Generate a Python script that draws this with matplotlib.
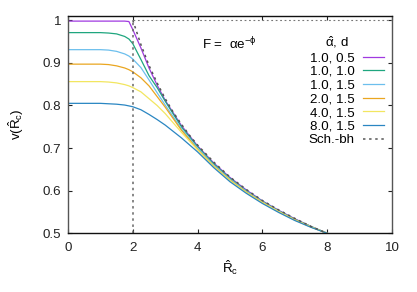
import matplotlib
matplotlib.use("Agg")
import matplotlib.pyplot as plt

plt.rcParams['font.family'] = ['Liberation Sans', 'DejaVu Sans']
plt.rcParams['mathtext.fontset'] = 'custom'
plt.rcParams['mathtext.rm'] = 'Liberation Sans'
plt.rcParams['mathtext.it'] = 'Liberation Sans:italic'

# ---- data ----
R = [0, 0.5, 1.0, 1.25, 1.5, 1.75, 1.88, 2.0, 2.25, 2.5, 2.75, 3.0, 3.5,
     4.0, 4.5, 5.0, 5.5, 6.0, 6.5, 7.0, 7.5, 8.0]

v_a10_d05 = [0.998, 0.998, 0.998, 0.998, 0.998, 0.998, 0.997, 0.978, 0.935, 0.888,
             0.848, 0.812, 0.753, 0.705, 0.665, 0.631, 0.602, 0.576, 0.554,
             0.534, 0.516, 0.5]
v_a10_d10 = [0.971, 0.971, 0.971, 0.970, 0.968, 0.962, 0.956, 0.945, 0.908, 0.870,
             0.842, 0.810, 0.750, 0.703, 0.663, 0.629, 0.600, 0.575, 0.553,
             0.533, 0.516, 0.5]
v_a10_d15 = [0.931, 0.931, 0.931, 0.930, 0.927, 0.921, 0.916, 0.909, 0.889, 0.860,
             0.830, 0.801, 0.745, 0.700, 0.660, 0.627, 0.599, 0.574, 0.552,
             0.532, 0.515, 0.5]
v_a20_d15 = [0.897, 0.897, 0.897, 0.896, 0.893, 0.888, 0.884, 0.879, 0.865, 0.846,
             0.821, 0.796, 0.742, 0.697, 0.658, 0.625, 0.597, 0.573, 0.551,
             0.532, 0.515, 0.5]
v_a40_d15 = [0.856, 0.856, 0.856, 0.855, 0.853, 0.849, 0.846, 0.842, 0.832, 0.816,
             0.800, 0.781, 0.737, 0.696, 0.657, 0.624, 0.596, 0.572, 0.551,
             0.531, 0.515, 0.5]
v_a80_d15 = [0.805, 0.805, 0.805, 0.804, 0.803, 0.801, 0.799, 0.797, 0.790, 0.779,
             0.767, 0.754, 0.724, 0.691, 0.654, 0.621, 0.594, 0.570, 0.549,
             0.530, 0.514, 0.5]

R_sch = [2.0, 2.25, 2.5, 2.75, 3.0, 3.25, 3.5, 3.75, 4.0, 4.5, 5.0, 5.5, 6.0,
         6.5, 7.0, 7.5, 8.0]
v_sch = [1.0, 0.943, 0.894, 0.853, 0.816, 0.784, 0.756, 0.730, 0.707, 0.667,
         0.632, 0.603, 0.577, 0.555, 0.535, 0.516, 0.5]

series = [
    ("1.0, 0.5", v_a10_d05, "#a03ae0"),
    ("1.0, 1.0", v_a10_d10, "#1fa67f"),
    ("1.0, 1.5", v_a10_d15, "#6cbfed"),
    ("2.0, 1.5", v_a20_d15, "#eaa620"),
    ("4.0, 1.5", v_a40_d15, "#f2e660"),
    ("8.0, 1.5", v_a80_d15, "#2a86c2"),
]

xticks = [0, 2, 4, 6, 8, 10]
yticks = [0.5, 0.6, 0.7, 0.8, 0.9, 1.0]
ytick_labels = ["0.5", "0.6", "0.7", "0.8", "0.9", "1"]

FS = 9.6
W, H = 417, 292
AX_L, AX_R, AX_T, AX_B = 68, 392, 16, 233.3

fig = plt.figure(figsize=(W/100, H/100), dpi=100)
ax = fig.add_axes([AX_L/W, 1-AX_B/H, (AX_R-AX_L)/W, (AX_B-AX_T)/H])

for lab, v, c in series:
    ax.plot(R, v, color=c, lw=0.9, label=lab)

dots = (0, (1.6, 2.4))
sch_col = "#555555"
ax.plot(R_sch, v_sch, color=sch_col, lw=1.1, linestyle=dots, label="Sch.-bh")
ax.plot([2, 10], [1.0, 1.0], color="#777777", lw=0.8, linestyle=dots)
ax.plot([2, 2], [0.5, 1.0], color="#666666", lw=1.1, linestyle=dots)

ax.set_xlim(0, 10)
ax.set_ylim(0.5, 1.01)
ax.set_xticks(xticks)
ax.set_yticks(yticks)
ax.set_yticklabels(ytick_labels)
ax.tick_params(direction='in', length=3, width=0.8, top=True, right=True,
               labelsize=FS, colors='#222222')
ax.tick_params(axis='x', pad=6)
ax.tick_params(axis='y', pad=5)
for s in ['left', 'right']:
    ax.spines[s].set_color('#555555')
for s in ['top', 'bottom']:
    ax.spines[s].set_color('#111111')
for s in ax.spines.values():
    s.set_linewidth(1.0)

ax.set_xlabel(r'$\hat{\mathrm{R}}_\mathrm{c}$', fontsize=FS)
ax.set_ylabel(r'v($\hat{\mathrm{R}}_\mathrm{c}$)', fontsize=FS)
ax.xaxis.set_label_coords(0.5, -0.115)
ax.yaxis.set_label_coords(-0.13, 0.5)

fig.text(202/W, 1-49/H, r'F =  αe$^{-\mathrm{ϕ}}$', fontsize=FS,
         ha='left', va='baseline')

# legend title
fig.text(337/W, 1-46/H, r'$\hat{\mathrm{α}}$, d', fontsize=FS,
         ha='center', va='baseline')

leg = ax.legend(loc='upper right',
                bbox_to_anchor=((384-AX_L)/(AX_R-AX_L), (AX_B-52)/(AX_B-AX_T)),
                fontsize=FS, frameon=False, markerfirst=False,
                handlelength=1.6, handletextpad=0.6, labelspacing=0.1,
                borderaxespad=0.0, borderpad=0.0)
for t in leg.get_texts():
    t.set_ha('right')

fig.savefig("out.png", dpi=100)
